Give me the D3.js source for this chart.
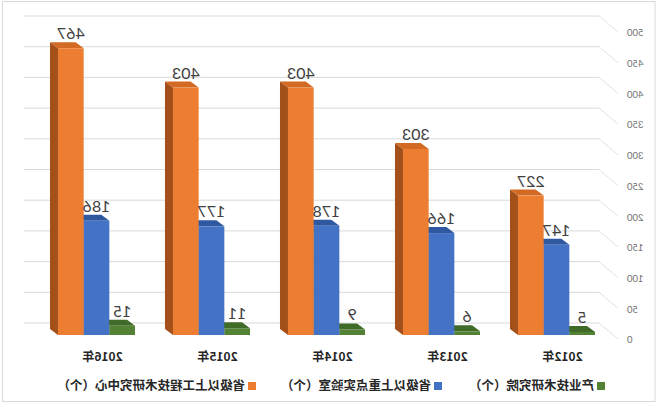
<!DOCTYPE html>
<html><head><meta charset="utf-8">
<script src="https://cdn.jsdelivr.net/npm/d3@7/dist/d3.min.js"></script>
<style>body{margin:0;background:#fff}svg{display:block}</style>
</head><body>
<svg id="c" width="662" height="406"></svg>
<script>
const categories = ["2012年","2013年","2014年","2015年","2016年"];
const seriesNames = ["产业技术研究院（个）","省级以上重点实验室（个）","省级以上工程技术研究中心（个）"];
const instituteValues = [5,6,9,11,15];
const labValues = [147,166,178,177,186];
const centerValues = [227,303,403,403,467];
const tickValues = [0,50,100,150,200,250,300,350,400,450,500];

const seriesValues = [instituteValues, labValues, centerValues];
const colors = [
  {front:"#548235", side:"#3b5e24", top:"#3f6a27"},
  {front:"#4472C4", side:"#2f5597", top:"#2f58a0"},
  {front:"#ED7D31", side:"#a3501a", top:"#d26a24"}
];

const svg = d3.select("#c");
svg.append("rect").attr("x",0).attr("y",0).attr("width",662).attr("height",406).attr("fill","#fff");
// mirrored drawing, as in the reference
const g = svg.append("g").attr("transform","translate(662,0) scale(-1,1)");

g.append("rect").attr("x",7).attr("y",1.5).attr("width",652.5).attr("height",400)
  .attr("fill","#fff").attr("stroke","#d9d9d9");

const yFront = d3.scaleLinear().domain([0,500]).range([335,28]);
const yBack = d3.scaleLinear().domain([0,500]).range([323,16]);
const x0 = d3.scaleBand().domain(categories).range([48,623]).paddingInner(0.33).paddingOuter(0.165);
const x1 = d3.scaleBand().domain(d3.range(seriesNames.length)).range([0,x0.bandwidth()]);
const dx = 8, dy = 6;

// back wall gridlines + side wall lines
tickValues.forEach(t => {
  const y = yBack(t);
  g.append("line").attr("x1",63).attr("x2",638).attr("y1",y).attr("y2",y)
    .attr("stroke","#d9d9d9").attr("stroke-width",1);
  g.append("line").attr("x1",63).attr("x2",44).attr("y1",y).attr("y2",y+16)
    .attr("stroke","#e3e3e3").attr("stroke-width",1);
  g.append("text").attr("x",35).attr("y",y+17).attr("dy","0.35em").attr("text-anchor","end")
    .attr("font-family","Lato, 'Open Sans', sans-serif").attr("font-size",9.5).attr("fill","#707070")
    .text(t);
});

// bars: left to right within a group so each bar hides its left neighbour's side face
categories.forEach((c, ci) => {
  for (let si = 0; si < seriesNames.length; si++) {
    const v = seriesValues[si][ci];
    const xl = x0(c) + x1(si), w = x1.bandwidth();
    const xr = xl + w;
    const yt = yFront(v), yb = yFront(0);
    const col = colors[si];
    g.append("path").attr("d",`M${xr},${yt}L${xr+dx},${yt-dy}L${xr+dx},${yb-dy}L${xr},${yb}Z`).attr("fill",col.side);
    g.append("path").attr("d",`M${xl},${yt}L${xl+dx},${yt-dy}L${xr+dx},${yt-dy}L${xr},${yt}Z`).attr("fill",col.top);
    g.append("rect").attr("x",xl).attr("y",yt).attr("width",w).attr("height",yb-yt).attr("fill",col.front);
  }
});
// value labels and category labels
categories.forEach((c, ci) => {
  seriesValues.forEach((vals, si) => {
    const v = vals[ci];
    g.append("text").attr("x",x0(c)+x1(si)+x1.bandwidth()/2).attr("y",yFront(v)-9)
      .attr("text-anchor","middle").attr("font-family","Lato, 'Open Sans', sans-serif")
      .attr("font-size",16).attr("fill","#404040").text(v);
  });
  g.append("text").attr("x",x0(c)+x0.bandwidth()/2-6).attr("y",357).attr("dy","0.35em")
    .attr("text-anchor","middle").attr("font-family","'Noto Sans CJK SC', sans-serif")
    .attr("font-weight","bold").attr("font-size",12).attr("fill","#262626").text(c);
});

// legend
const legendX = [57,220,406];
seriesNames.forEach((n, si) => {
  g.append("rect").attr("x",legendX[si]).attr("y",382).attr("width",8).attr("height",8).attr("fill",colors[si].front);
  g.append("text").attr("x",legendX[si]+11).attr("y",386).attr("dy","0.35em")
    .attr("font-family","'Noto Sans CJK SC', sans-serif").attr("font-weight","bold")
    .attr("font-size",12.5).attr("fill","#262626").text(n);
});
</script>
</body></html>
